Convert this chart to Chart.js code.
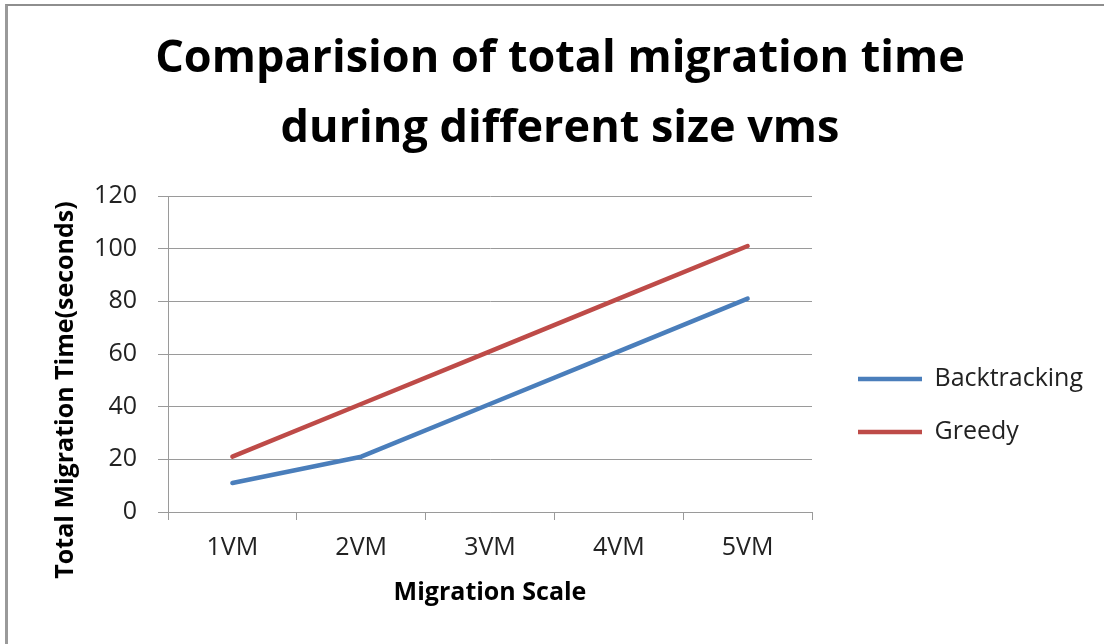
<!DOCTYPE html>
<html>
<head>
<meta charset="utf-8">
<script src="https://cdn.jsdelivr.net/npm/chart.js"></script>
<style>
  body { margin: 0; background: #fff; }
  #wrap { position: relative; width: 1104px; height: 644px; }
  #frame { position: absolute; left: 5px; top: 4px; right: -10px; bottom: -10px;
           border-left: 3px solid #9a9a9a; border-top: 2px solid #8e8e8e; pointer-events: none; }
</style>
</head>
<body>
<div id="wrap">
  <canvas id="chart" width="1104" height="644"></canvas>
  <div id="frame"></div>
</div>
<script>
const categories = ["1VM", "2VM", "3VM", "4VM", "5VM"];
const backtracking = [11, 21, 41, 61, 81];
const greedy = [21, 41, 61, 81, 101];
const yMin = 0;
const yMax = 120;
const yStep = 20;
const titleLines = ["Comparision of total migration time", "during different size vms"];
const xTitle = "Migration Scale";
const yTitle = "Total Migration Time(seconds)";

const fontName = "Open Sans";
const gridColor = "#9a9a9a";
const textColor = "#222";

// y title is longer than the plot height, chart.js would squeeze it, so draw it here
const yTitlePlugin = {
  id: "yTitle",
  afterDraw(chart) {
    const s = chart.scales.y;
    const ctx = chart.ctx;
    ctx.save();
    ctx.translate(66, (s.top + s.bottom) / 2 + 36);
    ctx.rotate(-Math.PI / 2);
    ctx.font = "bold 25px '" + fontName + "'";
    ctx.fillStyle = "#000";
    ctx.textAlign = "center";
    ctx.textBaseline = "middle";
    ctx.fillText(yTitle, 0, 0);
    ctx.restore();
  }
};

const myChart = new Chart("chart", {
  type: "line",
  data: {
    labels: categories,
    datasets: [
      {
        label: "Backtracking",
        data: backtracking,
        borderColor: "#4A7EBB",
        backgroundColor: "#4A7EBB",
        borderWidth: 4.5,
        borderCapStyle: "round",
        borderJoinStyle: "round",
        pointRadius: 0,
        tension: 0
      },
      {
        label: "Greedy",
        data: greedy,
        borderColor: "#BE4B48",
        backgroundColor: "#BE4B48",
        borderWidth: 4.5,
        borderCapStyle: "round",
        borderJoinStyle: "round",
        pointRadius: 0,
        tension: 0
      }
    ]
  },
  options: {
    responsive: false,
    animation: false,
    devicePixelRatio: 1,
    layout: { padding: { left: 32, right: 16, top: 0, bottom: 0 } },
    plugins: {
      tooltip: { enabled: false },
      title: {
        display: true,
        text: titleLines,
        color: "#000",
        font: { family: fontName, size: 45, weight: "bold", lineHeight: "70px" },
        padding: { top: 24, bottom: 32 }
      },
      legend: {
        position: "right",
        fullSize: false,
        maxWidth: 258,
        title: { display: true, text: "", font: { size: 10, lineHeight: 1 }, padding: { top: 93, bottom: 0 } },
        labels: {
          usePointStyle: true,
          pointStyle: "line",
          pointStyleWidth: 64,
          padding: 28,
          color: textColor,
          font: { family: fontName, size: 25 }
        }
      }
    },
    scales: {
      x: {
        offset: true,
        grid: { offset: true, drawOnChartArea: false, color: gridColor, tickLength: 8 },
        border: { color: gridColor },
        ticks: { color: textColor, padding: 13, font: { family: fontName, size: 25 } },
        title: {
          display: true,
          text: xTitle,
          color: "#000",
          font: { family: fontName, size: 25, weight: "bold" },
          padding: { top: 0, bottom: 36 }
        },
        afterFit(s) { s.height = 132; }
      },
      y: {
        min: yMin,
        max: yMax,
        ticks: { stepSize: yStep, color: textColor, padding: 21, font: { family: fontName, size: 25 } },
        grid: { color: gridColor, tickLength: 10 },
        border: { color: gridColor },
        afterFit(s) { s.width = 136; }
      },
      gap: {
        type: "linear",
        position: "right",
        grid: { display: false },
        ticks: { display: false },
        border: { display: false },
        afterFit(s) { s.width = 18; }
      }
    }
  },
  plugins: [yTitlePlugin]
});
</script>
</body>
</html>
